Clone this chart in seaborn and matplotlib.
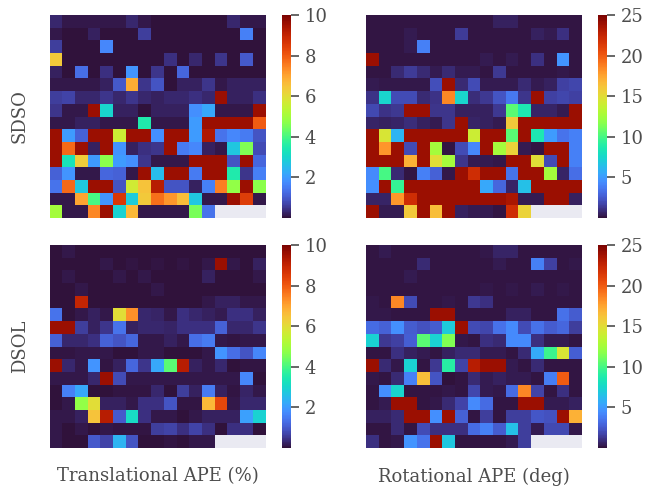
import numpy as np
import matplotlib
matplotlib.use("Agg")
import matplotlib.pyplot as plt
import seaborn as sns

n = np.nan
row_label_top = "SDSO"
row_label_bottom = "DSOL"
col_label_left = "Translational APE (%)"
col_label_right = "Rotational APE (deg)"
trans_ticks = [2, 4, 6, 8, 10]
rot_ticks = [5, 10, 15, 20, 25]

sdso_trans = [
 [.3,.08,.08,.08,.08,.08,.3,.08,.03,.03,.03,.03,.03,.03,.3,.08,.08],
 [.08,.03,.03,.2,.03,.03,.03,.6,.03,.03,.03,.03,.03,.03,.03,1.6,.03],
 [.6,.03,.03,.03,1.7,.03,.03,.03,.03,.03,.03,.03,.03,.03,.03,.03,.03],
 [6.4,.03,.03,.03,.03,.03,.03,.03,.03,.4,.03,.3,.03,.5,.03,1.0,.03],
 [.2,.03,1.3,.03,.4,.03,1.9,.03,.5,.03,1.2,.03,.03,.03,.03,.03,.03],
 [.08,.08,.08,.08,.2,1.0,6.9,.5,.9,.03,.2,.2,.5,.08,.2,.2,.2],
 [.6,.7,.3,.3,.5,.3,.5,.3,.2,.3,.3,.4,.3,9.6,.2,.2,.4],
 [.5,.08,.08,9.6,3,.2,.2,.03,.2,.2,.2,1.8,2.2,.08,.08,.08,9.6],
 [.08,.08,.2,.2,.08,.08,.08,3.5,.08,.08,.08,2.0,9.6,9.6,9.6,9.6,8],
 [9.6,2,1.1,9.6,9.6,5.6,9.6,9.6,1.8,9.6,9.6,2,9.3,1.4,1.7,1.5,.9],
 [9.6,7.8,9.6,.2,9.6,1.9,.2,.4,.5,9.6,1.5,1.7,.2,.08,2.7,4.6,.8],
 [9.6,3.3,6.3,2,4.7,2,1.8,.5,.08,.08,.08,9.6,9.6,9.6,.9,9.6,1.2],
 [1.1,1.9,.08,.08,1.2,1.1,.08,9.6,2.5,9.6,9.6,1.5,9.6,9.6,3.5,.5,1.6],
 [1.4,7.8,2.7,9.6,9.6,.9,5.7,6.5,9.2,.9,.9,.2,1.6,7.5,4.8,9.6,4.7],
 [.08,.08,7,4,1.9,8.6,2.8,6.4,7.7,7.2,6.6,2.7,.08,.08,9.6,8.5,.08],
 [5,.08,.08,7.4,9.6,2.9,6.7,.08,.08,.08,.08,4.5,1.4,n,n,n,n],
]

sdso_rot = [
 [.15,.15,.15,.15,.15,.15,.15,.15,.15,.15,.5,.5,.15,.15,.15,.15,.15],
 [.15,.15,.15,.35,.15,.15,.15,1.4,.15,.15,.15,.15,.15,.5,.35,1.0,.15],
 [.15,.15,.15,.35,4,.15,.15,.15,.15,.15,.15,.15,.15,.15,.15,.15,.15],
 [24,.15,.15,.15,.15,.15,.15,.15,.15,.35,.15,.35,.15,1.0,.15,4.7,.15],
 [.15,.15,.8,1.4,.8,.35,.8,.35,.35,.15,1.3,.15,.15,.15,.15,.2,.15],
 [.35,.2,.2,.2,.2,2.1,24,.8,2,.35,.35,.35,.8,.35,.5,1.6,1.8],
 [1.1,7.5,2,2,.8,1.1,18.5,7.5,.9,1.3,2.3,3.7,1.2,24,1.6,1.8,1.6],
 [1.9,1.1,1.3,24,24,1.2,1.2,.5,.5,.5,1.3,10.5,8.5,.6,.6,.35,24],
 [.6,.5,.6,.9,.5,.35,1.2,24,.6,.5,.35,16,24,24,24,24,24],
 [24,14.5,6,24,24,24,24,24,14,24,24,10.5,24,8.5,5,3.5,4],
 [24,18,24,2,24,12.5,.15,2,4.2,24,12.5,15.5,.35,.15,24,24,4],
 [24,24,24,17,24,15,12.5,1.2,.35,.35,.2,24,24,15,2,24,4],
 [4.3,10,.8,.15,4,2.8,.2,24,22,24,24,3.5,24,24,12.5,.6,3.3],
 [4.5,24,9.5,24,24,24,24,24,24,5.5,3,.6,6.5,24,24,24,24],
 [.6,.6,18,22,24,24,24,24,24,24,24,23.5,.35,.35,24,24,.5],
 [24,.35,.35,16,24,16.5,24,.5,.35,.35,.15,22,15.5,n,n,n,n],
]

dsol_trans = [
 [.03,.08,.03,.03,.03,.03,.03,.03,.03,.03,.03,.03,.03,.03,.03,.03,.03],
 [.03,.03,.03,.03,.08,.03,.05,.03,.05,.03,.05,.03,.08,9.6,.08,.03,.2],
 [.03,.08,.03,.03,.03,.08,.03,.08,.03,.03,.03,.03,.2,.03,.03,.03,.08],
 [.03,.03,.08,.03,.03,.03,.03,.03,.08,.03,.03,.03,.03,.03,.03,.03,.03],
 [.03,.03,9,.03,.03,.03,.03,.03,.03,.03,.03,.03,.08,.2,.2,.08,.08],
 [1.4,.03,.08,.2,.08,6,7.3,.3,.25,.08,.4,.3,.2,.15,.4,.4,.2],
 [9.6,9.6,.6,.2,.5,1.4,.2,.3,.3,.25,.4,.4,.4,1.1,.3,.3,.5],
 [1.1,.3,.3,.4,1.1,.9,1.2,.08,.08,.2,.08,1.3,1.5,.08,.05,.08,.08],
 [.05,.05,.08,.08,.08,.03,.03,.08,.08,.03,.03,.03,.08,1.9,1.3,.9,1.7],
 [9.6,.3,.08,1.9,.05,.2,1.2,.5,2.2,4.2,9.2,.2,.08,.3,.01,.05,.05],
 [.08,.08,.08,.3,9.6,.8,.08,.08,.08,.08,.08,.08,.08,.08,.08,1.7,.01],
 [.03,1.6,2.2,.01,.03,.05,.05,.05,.3,.01,.6,.2,1.5,.2,.05,.25,.08],
 [.03,.08,4.8,6,.2,.2,.08,.4,.4,.9,.05,.05,6.7,8.3,.08,.3,.3],
 [.08,.08,.2,6.5,9.2,1,3.1,.4,.08,.08,.01,.08,.2,.2,.2,2.1,2.9],
 [.08,.03,.08,.03,.08,.05,.05,.05,.6,.7,.4,.7,.4,.03,.4,.4,.01],
 [.08,.03,.03,1,.7,2.4,.9,.03,.03,.05,.03,.08,.08,n,n,n,n],
]

dsol_rot = [
 [.1,.35,.1,.1,.1,.1,.1,.1,.1,.2,.6,.6,.1,.1,.1,.1,.1],
 [.1,.1,.1,.1,.8,.1,.15,.15,.15,.15,.35,.1,.1,4,1.6,.1,.2],
 [.1,.1,.1,.35,.1,.1,.1,.1,.1,.1,.1,.15,.1,.1,.1,.1,.1],
 [.1,.1,.1,.1,.1,.1,.1,.1,.15,.2,.1,.2,.1,.35,.1,.2,.15],
 [.2,.1,18.5,2,.15,.15,.2,.1,1.3,1.0,.1,.15,.15,.15,.15,.15,.15],
 [.2,.2,.1,.15,.1,24,24,.15,.15,.1,.1,.5,.5,.1,.1,3.4,2.6],
 [3.2,2.8,4.5,2.6,2.2,2.6,7,24,2,1.8,3.4,4.3,2,3.4,2.6,3,1.5],
 [7.3,1.3,1.6,2.7,10.5,7.3,11.5,.2,.1,1.0,.8,4.3,4.3,1.0,.35,.35,.1],
 [.15,.1,1.0,.5,.35,.15,.5,.8,.8,.35,.35,.1,.8,5.6,9.7,14.5,2.7],
 [24,.8,.2,7.3,.15,1.3,9,1.7,23,24,24,.35,.15,.8,.1,.1,.1],
 [.2,.1,.8,4,16.5,2.3,.05,.15,.8,.35,.5,.35,.35,.15,3.9,20,.1],
 [.1,4.5,7.5,.1,.1,.1,.2,.15,1.8,.35,.2,3.2,18.5,1.7,.15,1.0,.1],
 [.1,.35,24,24,.15,.2,.8,1.7,4.3,3.2,.1,.1,24,24,.35,.35,.5],
 [.5,.5,.8,24,24,4.5,24,2.8,.1,1.5,.1,1.5,1.5,2.4,2.2,24,17],
 [.1,.1,.8,.1,2,1.0,1.0,1.0,3.2,4,2.6,6.5,1.5,.35,1.9,1.9,.2],
 [1.0,.1,.2,4.7,3.5,24,6.8,.15,.15,.1,.1,.35,1.5,n,n,n,n],
]

sns.set_theme(style="darkgrid", font="DejaVu Serif")
W, H = 654, 487
fig = plt.figure(figsize=(W / 100, H / 100), dpi=100)

def box(x0, y0, x1, y1):
    return [x0 / W, 1 - y1 / H, (x1 - x0) / W, (y1 - y0) / H]

panels = [
    (sdso_trans, 10, trans_ticks, 49.5, 15),
    (sdso_rot, 25, rot_ticks, 366, 15),
    (dsol_trans, 10, trans_ticks, 49.5, 245),
    (dsol_rot, 25, rot_ticks, 366, 245),
]
axes = []
for data, vmax, ticks, x0, y0 in panels:
    ax = fig.add_axes(box(x0, y0, x0 + 216, y0 + 203))
    cax = fig.add_axes(box(x0 + 232, y0, x0 + 241, y0 + 203))
    sns.heatmap(np.array(data, dtype=float), ax=ax, cbar_ax=cax, cmap="turbo",
                vmin=0, vmax=vmax, xticklabels=False, yticklabels=False,
                cbar_kws={"ticks": ticks})
    ax.tick_params(length=0)
    cax.tick_params(labelsize=13, length=6, width=1.2, color="0.3",
                    labelcolor="0.3", pad=4, right=True)
    for s in cax.spines.values():
        s.set_visible(False)
    axes.append(ax)

label_kw = dict(fontsize=13, color="0.3")
axes[0].set_ylabel(row_label_top, labelpad=15, **label_kw)
axes[2].set_ylabel(row_label_bottom, labelpad=15, **label_kw)
axes[2].set_xlabel(col_label_left, labelpad=14, **label_kw)
axes[3].set_xlabel(col_label_right, labelpad=14, **label_kw)

fig.savefig("out.png", dpi=100, facecolor="white")
